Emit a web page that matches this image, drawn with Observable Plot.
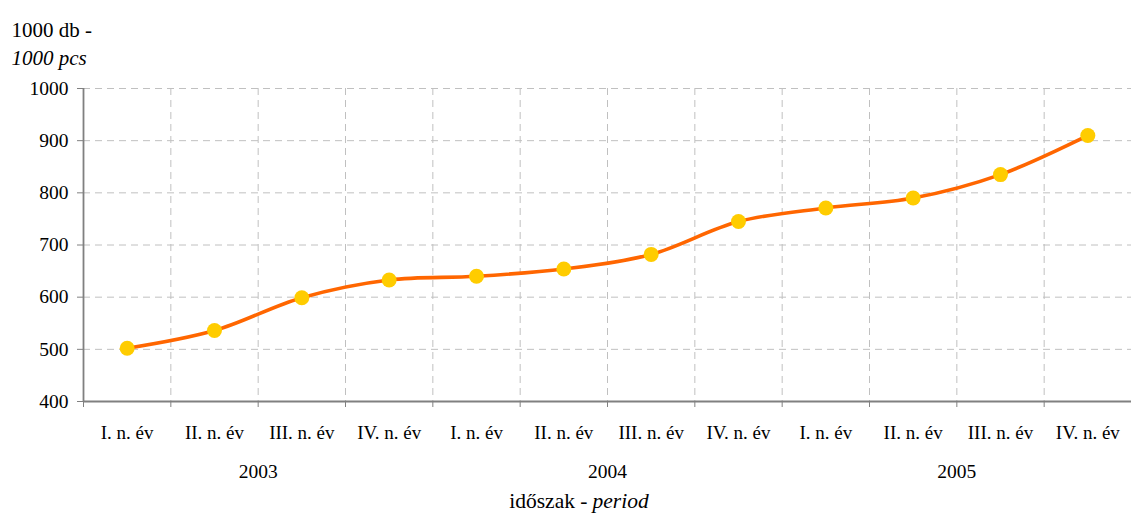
<!DOCTYPE html>
<html>
<head>
<meta charset="utf-8">
<script src="https://cdn.jsdelivr.net/npm/d3@7"></script>
<script src="https://cdn.jsdelivr.net/npm/@observablehq/plot@0.6"></script>
<style>
  body { margin: 0; background: #fff; }
  #chart svg, #chart svg text { font-family: "Liberation Serif", "DejaVu Serif", serif !important; }
</style>
</head>
<body>
<div id="chart"></div>
<script>
const quarterLabels = ["I. n. év", "II. n. év", "III. n. év", "IV. n. év",
                       "I. n. év", "II. n. év", "III. n. év", "IV. n. év",
                       "I. n. év", "II. n. év", "III. n. év", "IV. n. év"];
const years = ["2003", "2004", "2005"];
const values = [502, 536, 599, 633, 640, 654, 682, 745, 771, 790, 835, 910];
const yTicks = [400, 500, 600, 700, 800, 900, 1000];

const data = values.map((v, i) => ({pos: i + 0.5, value: v, label: quarterLabels[i]}));
const yearData = years.map((y, i) => ({pos: i * 4 + 2, year: y}));

const gridColor = "#c0c0c0";
const axisColor = "#808080";

const chart = Plot.plot({
  width: 1131,
  height: 517,
  marginTop: 88,
  marginBottom: 116,
  marginLeft: 83,
  marginRight: 0,
  style: {fontSize: "19px", fontFamily: "'Liberation Serif', serif", color: "#000", background: "#fff"},
  x: {domain: [0, 12]},
  y: {domain: [400, 1000]},
  marks: [
    Plot.gridY(yTicks.slice(1), {stroke: gridColor, strokeOpacity: 1, strokeDasharray: "7,5"}),
    Plot.gridX(d3.range(1, 13), {stroke: gridColor, strokeOpacity: 1, strokeDasharray: "7,5"}),
    Plot.axisY(yTicks, {tickSize: 6, tickPadding: 9, stroke: axisColor, fontSize: 19.5, label: null, tickFormat: d => String(d)}),
    Plot.axisX(d3.range(0, 13), {tickSize: 6, tickFormat: () => "", stroke: axisColor, label: null}),
    Plot.axisX(data.map(d => d.pos), {tickSize: 0, tickPadding: 24, tickFormat: (p) => quarterLabels[Math.floor(p)], fontSize: 19, label: null}),
    Plot.ruleX([0], {stroke: axisColor, strokeWidth: 1.8}),
    Plot.ruleY([400], {stroke: axisColor, strokeWidth: 1.8}),
    Plot.line(data, {x: "pos", y: "value", stroke: "#ff6600", strokeWidth: 3.6, curve: "catmull-rom"}),
    Plot.dot(data, {x: "pos", y: "value", r: 7.5, fill: "#ffcc00", stroke: "none"}),
    Plot.text(yearData, {x: "pos", text: "year", frameAnchor: "bottom", dy: 76, fontSize: 19.5}),
    Plot.text(["időszak -"], {frameAnchor: "bottom", dx: -20, dy: 106, textAnchor: "end", fontSize: 21.5}),
    Plot.text(["period"], {frameAnchor: "bottom", dx: -15, dy: 106, textAnchor: "start", fontSize: 21.5, fontStyle: "italic"}),
    Plot.text(["1000 db -"], {frameAnchor: "top-left", dx: -72, dy: -66, textAnchor: "start", fontSize: 21}),
    Plot.text(["1000 pcs"], {frameAnchor: "top-left", dx: -72, dy: -38, textAnchor: "start", fontSize: 21, fontStyle: "italic"})
  ]
});
document.getElementById("chart").appendChild(chart);
</script>
</body>
</html>
